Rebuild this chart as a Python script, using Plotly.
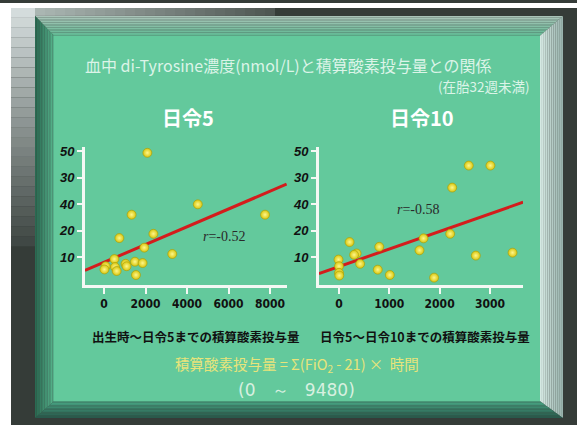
import plotly.graph_objects as go

# ---------------- data ----------------
d5_x = [2090, 4520, 7760, 1330, 740, 2380, 1940, 3290, 500, 80, 20, 530, 610, 1040, 1090, 1490, 1860, 1540]
d5_y = [49.3, 29.9, 26.0, 26.0, 17.2, 18.8, 13.6, 11.2, 9.3, 6.6, 5.4, 6.3, 4.8, 7.5, 6.6, 8.3, 7.8, 3.3]
fit5_x = [-920, 8800]
fit5_y = [5.0, 37.5]

d10_x = [2580, 3010, 2250, 2210, 210, 800, 1680, 1600, 350, 300, 420, 2720, 3450, -10, 0, 0, 5, 770, 1010, 1890]
d10_y = [44.5, 44.5, 36.2, 18.8, 15.7, 13.9, 17.1, 12.6, 11.4, 10.9, 7.5, 10.6, 11.7, 9.1, 6.6, 4.1, 3.1, 5.3, 3.3, 2.3]
fit10_x = [-400, 3660]
fit10_y = [3.8, 30.7]

y_tickvals = [10, 20, 30, 40, 50]
y_ticktext = ["10", "20", "40", "30", "50"]
x5_tickvals = [0, 2000, 4000, 6000, 8000]
x10_tickvals = [0, 1000, 2000, 3000]
r5_text = "<i>r</i>=-0.52"
r10_text = "<i>r</i>=-0.58"

title_main = "血中 di-Tyrosine濃度(nmol/L)と積算酸素投与量との関係"
title_sub = "(在胎32週未満)"
panel5_title = "日令5"
panel10_title = "日令10"
xcap5 = "出生時～日令5までの積算酸素投与量"
xcap10 = "日令5～日令10までの積算酸素投与量"
formula = "積算酸素投与量 = Σ(FiO<sub>2</sub> - 21) ×  時間"
range_text = "(0   ～   9480)"

W, H = 577, 425


def px(x):
    return x / W


def py(y):
    return 1 - y / H


def hexmix(c1, c2, t):
    a = [int(c1[i:i + 2], 16) for i in (1, 3, 5)]
    b = [int(c2[i:i + 2], 16) for i in (1, 3, 5)]
    return "#" + "".join(f"{round(a[k] + (b[k] - a[k]) * t):02x}" for k in range(3))


shapes = []


def poly(points, color):
    d = "M " + " L ".join(f"{px(x)},{py(y)}" for x, y in points) + " Z"
    shapes.append(dict(type="path", xref="paper", yref="paper", path=d,
                       fillcolor=color, line=dict(width=0), layer="below"))


def rect(x0, y0, x1, y1, color):
    shapes.append(dict(type="rect", xref="paper", yref="paper", x0=px(x0), x1=px(x1),
                       y0=py(y1), y1=py(y0), fillcolor=color, line=dict(width=0), layer="below"))


# outside background
rect(0, 0, W, H, "#353c38")
NB = 24
for i in range(NB):
    t = i / NB
    rect(11, 5 + i * 10, 35, 5 + (i + 1) * 10, hexmix("#d4dcdc", "#3a423e", t))
for i in range(NB):
    t = i / NB
    rect(35 + i * 10, 5, 35 + (i + 1) * 10, 13, hexmix("#aab6b2", "#4a524e", t))
rect(0, 0, 11, H, "#ffffff")
rect(0, 0, W, 5, "#ffffff")

# bevel frame
ox0, oy0, ox1, oy1 = 35, 13, 563, 418
ix0, iy0, ix1, iy1 = 54, 33, 540, 401
N = 12


def lerp(p, q, t):
    return p + (q - p) * t


for i in range(N):
    a, b = i / N, (i + 1) / N
    # top
    poly([(lerp(ox0, ix0, a), lerp(oy0, iy0, a)), (lerp(ox1, ix1, a), lerp(oy0, iy0, a)),
          (lerp(ox1, ix1, b), lerp(oy0, iy0, b)), (lerp(ox0, ix0, b), lerp(oy0, iy0, b))],
         hexmix("#a9c4b8", "#5db891", a))
    # left
    poly([(lerp(ox0, ix0, a), lerp(oy0, iy0, a)), (lerp(ox0, ix0, b), lerp(oy0, iy0, b)),
          (lerp(ox0, ix0, b), lerp(oy1, iy1, b)), (lerp(ox0, ix0, a), lerp(oy1, iy1, a))],
         hexmix("#2a6a52", "#5ab991", a))
    # right
    poly([(lerp(ox1, ix1, a), lerp(oy0, iy0, a)), (lerp(ox1, ix1, b), lerp(oy0, iy0, b)),
          (lerp(ox1, ix1, b), lerp(oy1, iy1, b)), (lerp(ox1, ix1, a), lerp(oy1, iy1, a))],
         hexmix("#98b2ac", "#dbeee8", a))
    # bottom
    poly([(lerp(ox0, ix0, a), lerp(oy1, iy1, a)), (lerp(ox1, ix1, a), lerp(oy1, iy1, a)),
          (lerp(ox1, ix1, b), lerp(oy1, iy1, b)), (lerp(ox0, ix0, b), lerp(oy1, iy1, b))],
         hexmix("#285a4c", "#4aa886", a))
# inner panel
rect(ix0, iy0, ix1, iy1, "#63c99c")

fig = go.Figure()

marker = dict(size=9, color="#d8c60e", gradient=dict(type="radial", color="#fff78a"),
              line=dict(width=0.6, color="#a89a08"))

fig.add_trace(go.Scatter(x=fit5_x, y=fit5_y, mode="lines", line=dict(color="#d41c1c", width=3),
                         xaxis="x", yaxis="y", cliponaxis=False, showlegend=False))
fig.add_trace(go.Scatter(x=d5_x, y=d5_y, mode="markers", marker=marker,
                         xaxis="x", yaxis="y", cliponaxis=False, showlegend=False))
fig.add_trace(go.Scatter(x=fit10_x, y=fit10_y, mode="lines", line=dict(color="#d41c1c", width=3),
                         xaxis="x2", yaxis="y2", cliponaxis=False, showlegend=False))
fig.add_trace(go.Scatter(x=d10_x, y=d10_y, mode="markers", marker=marker,
                         xaxis="x2", yaxis="y2", cliponaxis=False, showlegend=False))

ytick_font = dict(family="Liberation Sans, Arial, sans-serif", size=13, color="#111111",
                  weight="bold", style="italic")
xtick_font = dict(family="Liberation Sans Narrow, DejaVu Sans Condensed, Arial Narrow, sans-serif",
                  size=12, color="#111111", weight="bold")
axcommon = dict(showline=True, linecolor="#f4f8f4", linewidth=3, showgrid=False, zeroline=False,
                ticks="outside", tickcolor="#f4f8f4", tickwidth=2, fixedrange=True)

ydom = [py(284), py(145)]
fig.update_layout(
    width=W, height=H, margin=dict(l=0, r=0, t=0, b=0),
    paper_bgcolor="#353c38", plot_bgcolor="rgba(0,0,0,0)",
    shapes=shapes,
    xaxis=dict(domain=[px(85), px(287)], range=[-916, 8819], tickvals=x5_tickvals,
               ticklen=6, tickfont=xtick_font, anchor="y", **axcommon),
    yaxis=dict(domain=ydom, range=[-0.47, 51.5], tickvals=y_tickvals, ticktext=y_ticktext,
               ticklen=5, tickfont=ytick_font, anchor="x", **axcommon),
    xaxis2=dict(domain=[px(319), px(523)], range=[-398, 3658], tickvals=x10_tickvals,
                ticklen=6, tickfont=xtick_font, anchor="y2", **axcommon),
    yaxis2=dict(domain=ydom, range=[-0.47, 51.5], tickvals=y_tickvals, ticktext=y_ticktext,
                ticklen=5, tickfont=ytick_font, anchor="x2", **axcommon),
)

cjk = "Noto Sans CJK JP, sans-serif"
ann = []


def text(x, y, s, size, color, weight="normal", family=cjk, xanchor="center"):
    ann.append(dict(xref="paper", yref="paper", x=px(x), y=py(y), text=s, showarrow=False,
                    xanchor=xanchor, yanchor="middle",
                    font=dict(family=family, size=size, color=color, weight=weight)))


text(83, 62, title_main, 16, "#dcf4e8", xanchor="left")
text(532, 84, title_sub, 13.5, "#dcf4e8", xanchor="right")
text(188, 115, panel5_title, 20, "#ffffff", weight="bold")
text(422, 115, panel10_title, 20, "#ffffff", weight="bold")
text(195, 336, xcap5, 12.5, "#111111", weight="bold")
text(425, 336, xcap10, 12.5, "#111111", weight="bold")
text(297, 364, formula, 14.5, "#e8e47a")
text(296, 390, range_text, 17, "#d8f0e0", family="DejaVu Sans, sans-serif")

for xr, yr, xv, yv, s in [("x", "y", 5783, 17.9, r5_text), ("x2", "y2", 1571, 27.9, r10_text)]:
    ann.append(dict(xref=xr, yref=yr, x=xv, y=yv, text=s, showarrow=False,
                    font=dict(family="Liberation Serif, Times New Roman, serif", size=14, color="#2a2a2a")))

fig.update_layout(annotations=ann)
fig.write_html("out.html")
